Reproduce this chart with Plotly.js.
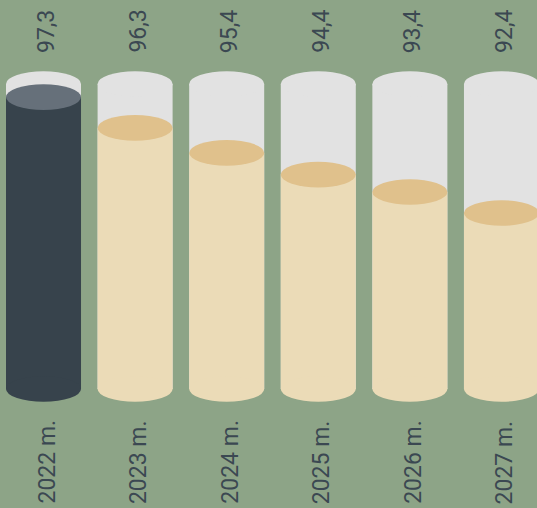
<!DOCTYPE html>
<html>
<head>
<meta charset="utf-8">
<script src="https://cdn.plot.ly/plotly-3.0.1.min.js"></script>
<style>
html,body{margin:0;padding:0;background:#8da487;}
#chart{width:537px;height:508px;}
</style>
</head>
<body>
<div id="chart"></div>
<script>
// Data
const years = ["2022 m.", "2023 m.", "2024 m.", "2025 m.", "2026 m.", "2027 m."];
const values = [97.3, 96.3, 95.4, 94.4, 93.4, 92.4];
// fill level of each cylinder, % of its height
const fillLevels = [95.7, 85.6, 77.4, 70.3, 64.6, 57.7];
const capacity = [100, 100, 100, 100, 100, 100];
const highlight = [true, false, false, false, false, false];

// Styles
const bg = "#8da487";
const emptyCol = "#e2e2e2";
const fillCol = "#ebdbb7";
const fillTop = "#e0c18c";
const darkCol = "#37434c";
const darkTop = "#66707a";
const textCol = "#3b4852";
const barW = 0.819;
const ry = 4.2;

const xs = years.map((_, i) => i);
const bodyColors = highlight.map(h => h ? darkCol : fillCol);
const topColors = highlight.map(h => h ? darkTop : fillTop);

const traces = [
  {type: "bar", x: xs, y: capacity, width: barW, marker: {color: emptyCol, line: {width: 0}}, hoverinfo: "skip"},
  {type: "bar", x: xs, y: fillLevels, width: barW, marker: {color: bodyColors, line: {width: 0}}, hoverinfo: "skip"}
];

const shapes = [];
xs.forEach((x, i) => {
  const x0 = x - barW / 2, x1 = x + barW / 2;
  // container top
  shapes.push({type: "circle", xref: "x", yref: "y", x0, x1, y0: capacity[i] - ry, y1: capacity[i] + ry,
    fillcolor: emptyCol, line: {width: 0}});
  // bottom
  shapes.push({type: "circle", xref: "x", yref: "y", x0, x1, y0: -ry, y1: ry,
    fillcolor: bodyColors[i], line: {width: 0}});
  // liquid surface
  shapes.push({type: "circle", xref: "x", yref: "y", x0, x1, y0: fillLevels[i] - ry, y1: fillLevels[i] + ry,
    fillcolor: topColors[i], line: {width: 0}});
});

const annotations = [];
xs.forEach((x, i) => {
  annotations.push({x, xref: "x", y: 1 - 31.5 / 508, yref: "paper", text: values[i].toFixed(1).replace(".", ","),
    textangle: -90, showarrow: false, xanchor: "center", yanchor: "middle", xshift: 3,
    font: {family: "Roboto", size: 23, color: textCol}});
  annotations.push({x, xref: "x", y: 1 - 462 / 508, yref: "paper", text: years[i],
    textangle: -90, showarrow: false, xanchor: "center", yanchor: "middle", xshift: 3,
    font: {family: "Roboto", size: 23, color: textCol}});
});

const layout = {
  width: 537, height: 508,
  margin: {l: 0, r: 0, t: 0, b: 0},
  paper_bgcolor: bg, plot_bgcolor: bg,
  barmode: "overlay",
  showlegend: false,
  xaxis: {type: "linear", range: [-0.475, 5.388], visible: false, fixedrange: true},
  yaxis: {range: [-39.02, 127.54], visible: false, fixedrange: true},
  shapes, annotations
};

Plotly.newPlot("chart", traces, layout, {displayModeBar: false, staticPlot: true});
</script>
</body>
</html>
